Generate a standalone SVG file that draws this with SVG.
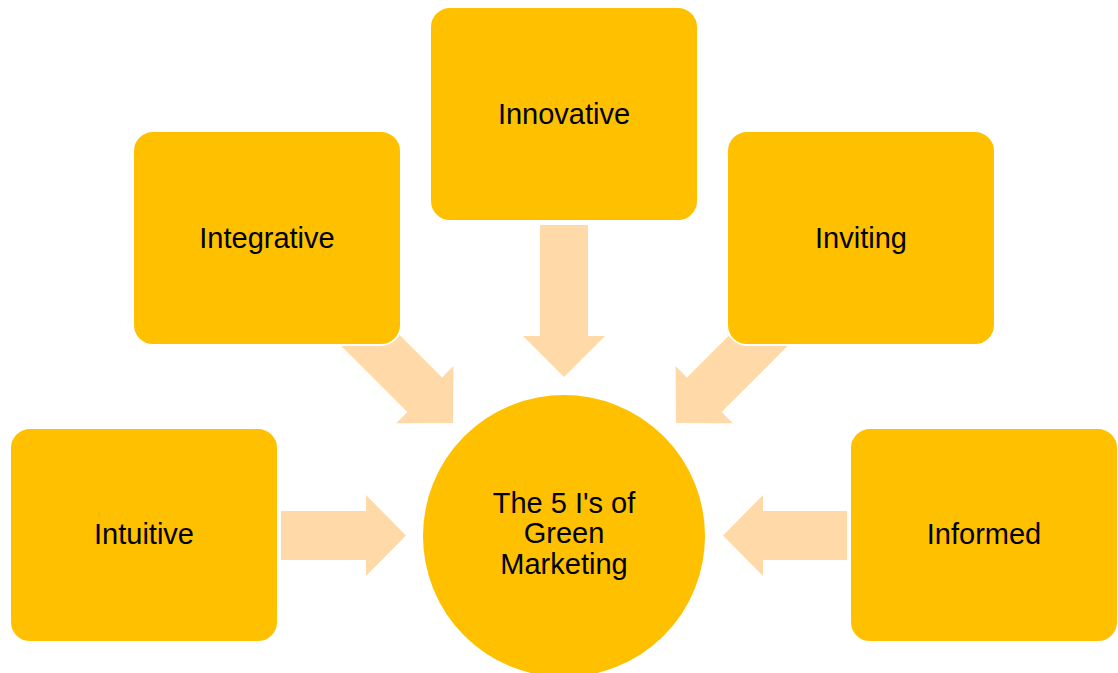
<svg xmlns="http://www.w3.org/2000/svg" width="1118" height="673" viewBox="0 0 1118 673">
<defs>
<style>
.box{fill:#FFC000;stroke:#FFFFFF;stroke-width:2}
.arr{fill:#FFDAA8}
.t{font-family:"Liberation Sans",Arial,sans-serif;font-size:29px;fill:#000;text-anchor:middle}
</style>
<polygon id="arrowR" points="-140,-24.5 -40,-24.5 -40,-40.5 0,0 -40,40.5 -40,24.5 -140,24.5"/>
</defs>
<rect width="1118" height="673" fill="#FFFFFF"/>
<g id="connectors">
<polygon class="arr" points="540,225 588,225 588,336 605,336 564,377 523,336 540,336"/>
<use href="#arrowR" class="arr" transform="translate(453,423) rotate(45)"/>
<use href="#arrowR" class="arr" transform="translate(676,423) rotate(135)"/>
<polygon class="arr" points="281,511 366,511 366,495 406,535.5 366,576 366,560 281,560"/>
<polygon class="arr" points="847,511 763,511 763,495 723,535.5 763,576 763,560 847,560"/>
</g>
<g id="node-innovative">
<rect class="box" x="430" y="7" width="268" height="214" rx="20"/>
<text class="t" x="564" y="124">Innovative</text>
</g>
<g id="node-integrative">
<rect class="box" x="133" y="131" width="268" height="214" rx="20"/>
<text class="t" x="267" y="248">Integrative</text>
</g>
<g id="node-inviting">
<rect class="box" x="727" y="131" width="268" height="214" rx="20"/>
<text class="t" x="861" y="248">Inviting</text>
</g>
<g id="node-intuitive">
<rect class="box" x="10" y="428" width="268" height="214" rx="20"/>
<text class="t" x="144" y="544">Intuitive</text>
</g>
<g id="node-informed">
<rect class="box" x="850" y="428" width="268" height="214" rx="20"/>
<text class="t" x="984" y="544">Informed</text>
</g>
<g id="node-center">
<circle class="box" cx="564" cy="536" r="142"/>
<text class="t" x="564" y="513">The 5 I's of</text>
<text class="t" x="564" y="543">Green</text>
<text class="t" x="564" y="574">Marketing</text>
</g>
</svg>
